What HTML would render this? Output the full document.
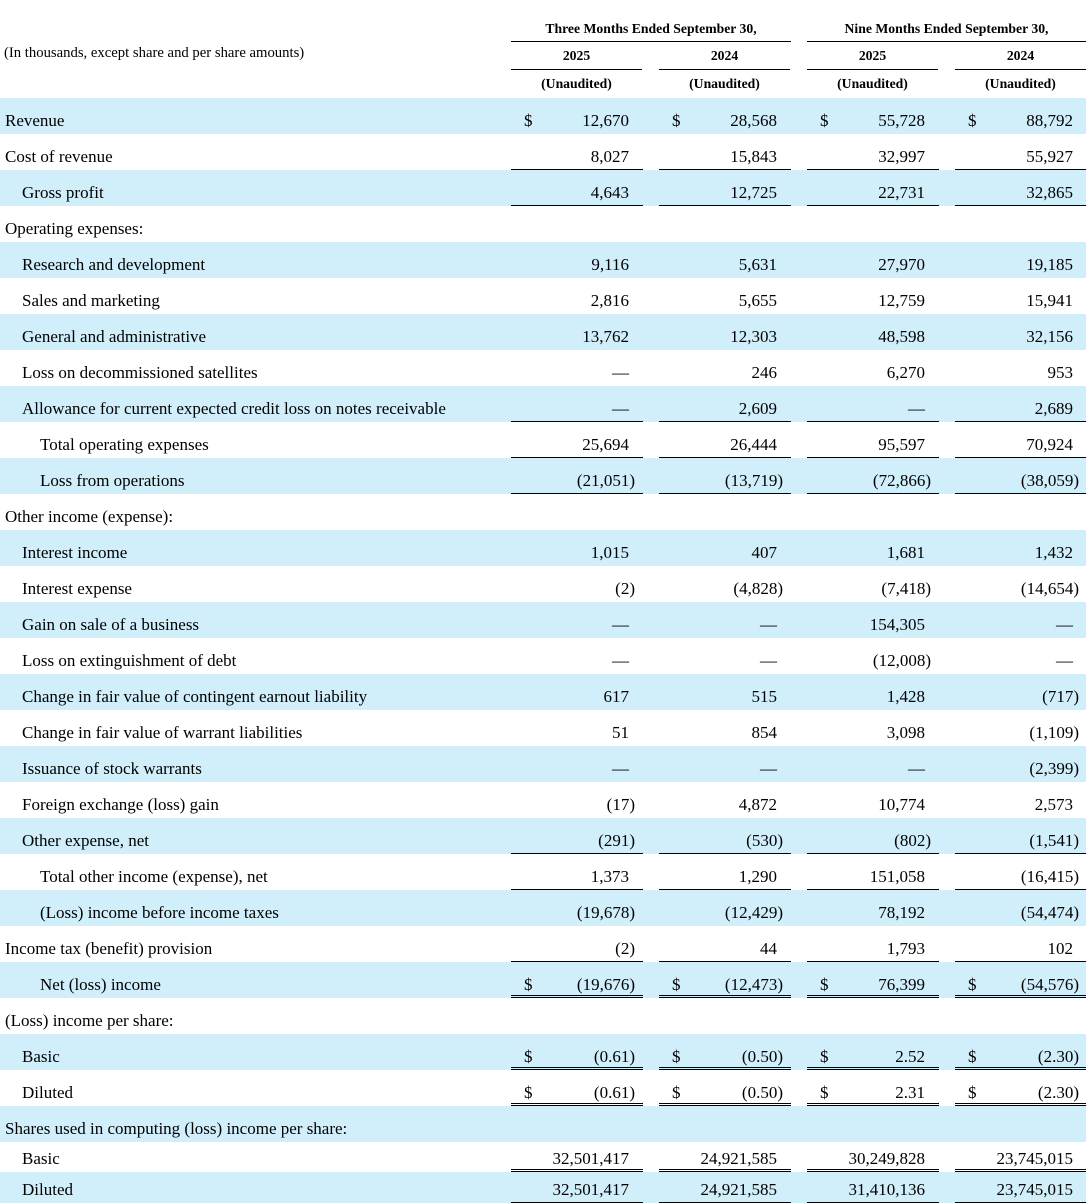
<!DOCTYPE html>
<html><head><meta charset="utf-8">
<style>
html,body{margin:0;padding:0;background:#fff;}
body{width:1086px;height:1203px;position:relative;overflow:hidden;font-family:"Liberation Serif",serif;color:#000;}
.hd{position:absolute;font-weight:bold;font-size:13.7px;text-align:center;}
.ul{position:absolute;height:0;border-top:1.3px solid #000;}
.row{position:absolute;left:0;width:1086px;}
.band{background:#d0effb;}
.lbl{position:absolute;font-size:17px;white-space:nowrap;}
.cell{position:absolute;font-size:17px;white-space:nowrap;}
.num{position:absolute;text-align:right;}
.par{margin-right:-6px;}
.line{position:absolute;height:0;}
</style></head>
<body>
<div style="position:absolute;left:4px;top:45px;font-size:14.7px;">(In thousands, except share and per share amounts)</div>
<div class="hd" style="left:511px;width:280px;top:21px;">Three Months Ended September 30,</div>
<div class="ul" style="left:511px;width:280px;top:41px;"></div>
<div class="hd" style="left:807px;width:279px;top:21px;">Nine Months Ended September 30,</div>
<div class="ul" style="left:807px;width:279px;top:41px;"></div>
<div id="hdrbox"></div>
<div id="tblbox"></div>
<script>
const colLeft=[511,659,807,955];
const years=["2025","2024","2025","2024"];
const labels=["Revenue","Cost of revenue","Gross profit","Operating expenses:","Research and development","Sales and marketing","General and administrative","Loss on decommissioned satellites","Allowance for current expected credit loss on notes receivable","Total operating expenses","Loss from operations","Other income (expense):","Interest income","Interest expense","Gain on sale of a business","Loss on extinguishment of debt","Change in fair value of contingent earnout liability","Change in fair value of warrant liabilities","Issuance of stock warrants","Foreign exchange (loss) gain","Other expense, net","Total other income (expense), net","(Loss) income before income taxes","Income tax (benefit) provision","Net (loss) income","(Loss) income per share:","Basic","Diluted","Shares used in computing (loss) income per share:","Basic","Diluted"];
const indents=[0,0,1,0,1,1,1,1,1,2,2,0,1,1,1,1,1,1,1,1,1,2,2,0,2,0,1,1,0,1,1];
const q3_2025=["12,670","8,027","4,643","","9,116","2,816","13,762","—","—","25,694","(21,051)","","1,015","(2)","—","—","617","51","—","(17)","(291)","1,373","(19,678)","(2)","(19,676)","","(0.61)","(0.61)","","32,501,417","32,501,417"];
const q3_2024=["28,568","15,843","12,725","","5,631","5,655","12,303","246","2,609","26,444","(13,719)","","407","(4,828)","—","—","515","854","—","4,872","(530)","1,290","(12,429)","44","(12,473)","","(0.50)","(0.50)","","24,921,585","24,921,585"];
const ytd_2025=["55,728","32,997","22,731","","27,970","12,759","48,598","6,270","—","95,597","(72,866)","","1,681","(7,418)","154,305","(12,008)","1,428","3,098","—","10,774","(802)","151,058","78,192","1,793","76,399","","2.52","2.31","","30,249,828","31,410,136"];
const ytd_2024=["88,792","55,927","32,865","","19,185","15,941","32,156","953","2,689","70,924","(38,059)","","1,432","(14,654)","—","—","(717)","(1,109)","(2,399)","2,573","(1,541)","(16,415)","(54,474)","102","(54,576)","","(2.30)","(2.30)","","23,745,015","23,745,015"];
const dollarRows=[0,24,26,27];
const singleRule=[1,2,8,9,10,20,21,23,30];
const doubleRule=[24,26,27,29];
const bandRows=[0,2,4,6,8,10,12,14,16,18,20,22,24,26,28,30];
const rowH=[36,36,36,36,36,36,36,36,36,36,36,36,36,36,36,36,36,36,36,36,36,36,36,36,36,36,36,36,36,30,31];
const seriesCols=[q3_2025,q3_2024,ytd_2025,ytd_2024];

const hdrBox=document.getElementById('hdrbox');
years.forEach((y,i)=>{
  const d=document.createElement('div');
  d.className='hd';
  
  
  d.style.left=colLeft[i]+'px';d.style.width='131px';d.style.top='48px';
  d.textContent=y;hdrBox.appendChild(d);
  const u=document.createElement('div');
  u.className='ul';
  
  
  u.style.left=colLeft[i]+'px';u.style.width='131px';u.style.top='69px';
  hdrBox.appendChild(u);
  const a=document.createElement('div');
  a.className='hd';
  
  
  a.style.left=colLeft[i]+'px';a.style.width='131px';a.style.top='76px';
  a.textContent='(Unaudited)';hdrBox.appendChild(a);
});

const tblBox=document.getElementById('tblbox');
let yPos=98;
labels.forEach((lab,r)=>{
  const h=rowH[r];
  const off=h-36+13;
  const row=document.createElement('div');
  row.className='row'+(bandRows.includes(r)?' band':'');
  
  
  row.style.top=yPos+'px';row.style.height=h+'px';
  const l=document.createElement('div');
  l.className='lbl';
  
  
  l.style.left=[5,22,40][indents[r]]+'px';
  l.style.top=off+'px';
  l.textContent=lab;row.appendChild(l);
  seriesCols.forEach((arr,c)=>{
    const v=arr[r];
    if(!v) return;
    const L=colLeft[c];
    if(dollarRows.includes(r)){
      const ds=document.createElement('div');
      ds.className='cell';
      
      
      ds.style.left=(L+13)+'px';ds.style.top=off+'px';
      ds.textContent='$';row.appendChild(ds);
    }
    const n=document.createElement('div');
    n.className='cell num';
    
    
    n.style.left=L+'px';n.style.width='118px';n.style.top=off+'px';
    if(v.endsWith(')')){n.innerHTML='<span class="par">'+v+'</span>';}else{n.textContent=v;}
    row.appendChild(n);
    if(singleRule.includes(r)||doubleRule.includes(r)){
      const ln=document.createElement('div');
      ln.className='line';
      
      
      ln.style.left=L+'px';ln.style.width='132px';
      if(doubleRule.includes(r)){ln.style.top=(h-3)+'px';ln.style.borderTop='1px solid #000';ln.style.borderBottom='1px solid #000';ln.style.height='1px';}
      else{ln.style.top=(h-1.5)+'px';ln.style.borderTop='1.3px solid #000';}
      row.appendChild(ln);
    }
  });
  tblBox.appendChild(row);
  yPos+=h;
});
</script>
</body></html>
